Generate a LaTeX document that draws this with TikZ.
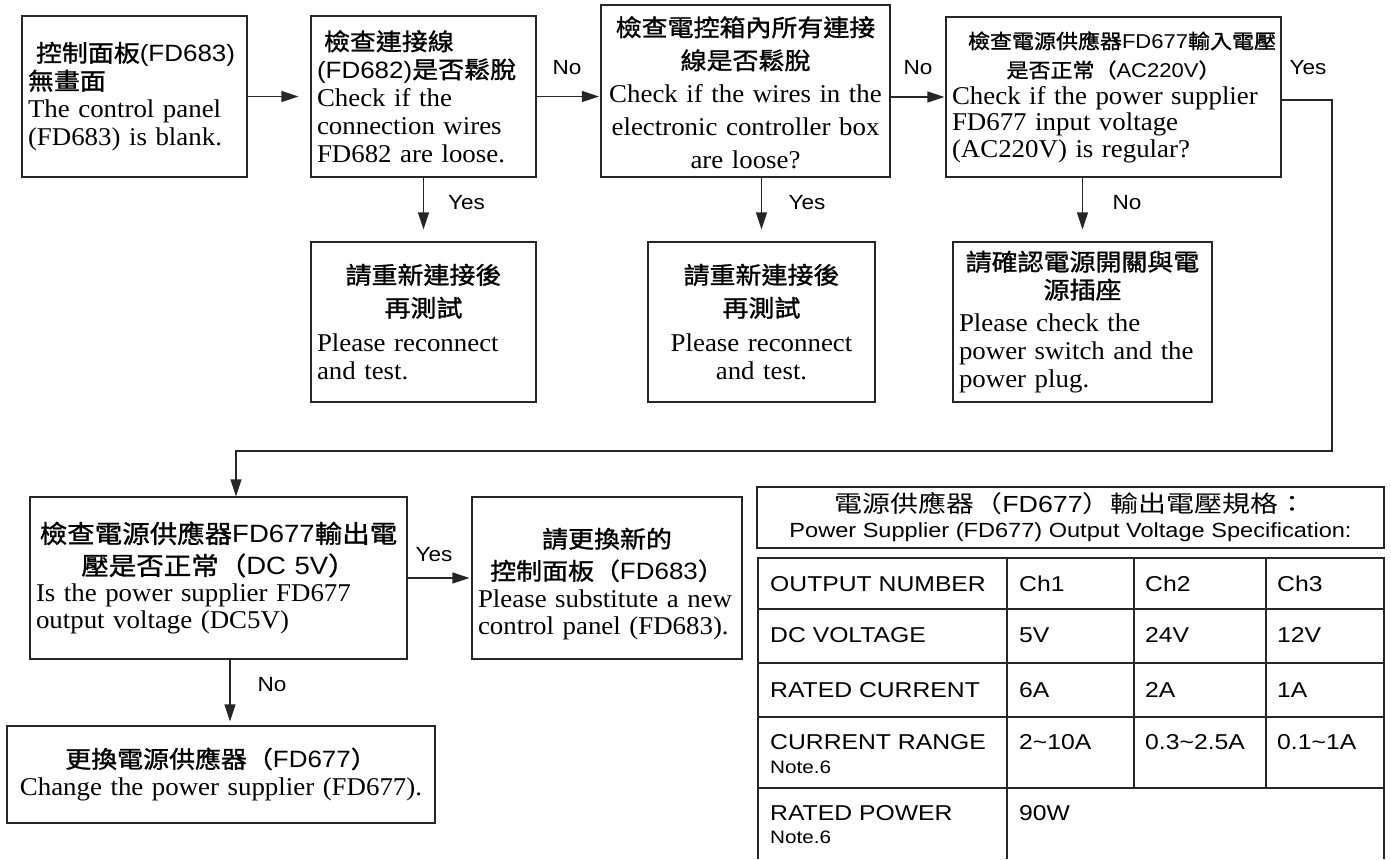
\documentclass[tikz,border=0pt]{standalone}
\usepackage{fontspec}
\setmainfont[FakeStretch=1.05]{Liberation Serif}
\setsansfont[FakeStretch=1.1]{Liberation Sans}
\newfontfamily\cjk[FakeStretch=1.1,FakeBold=1.2]{Noto Sans CJK TC}
\newfontfamily\tabfont[FakeStretch=1.15]{Liberation Sans}
\newfontfamily\tabcjk[FakeStretch=1.2]{Noto Sans CJK TC}
\usetikzlibrary{arrows.meta}
\newcommand\CJ[2][23.6]{{\fontsize{#1}{28}\selectfont #2}}
\newcommand\LL[1]{\makebox[\linewidth][l]{#1}}
\begin{document}
\begin{tikzpicture}[x=1pt,y=-1pt,
  box/.style={draw=black!85, line width=1.1pt, inner xsep=6pt, inner ysep=0pt, font=\fontsize{25.6}{28}\selectfont},
  flow/.style={draw=black!85, line width=1.1pt, -{Triangle[length=17pt,width=11pt]}},
  lab/.style={font=\sffamily\fontsize{20.5}{22}\selectfont, inner sep=0pt},
  tbl/.style={draw=black!85, line width=1.4pt},
  cell/.style={font=\tabfont\fontsize{21.5}{24}\selectfont, anchor=base west, inner sep=0pt},
  note/.style={font=\tabfont\fontsize{18}{20}\selectfont, anchor=base west, inner sep=0pt},
]
\useasboundingbox (0,0) rectangle (1391,859);
\fill[white] (0,0) rectangle (1391,859);

% ---- boxes ----
\node[box, minimum width=225pt, minimum height=161pt, text width=213pt, align=left] (b1) at (134.5,96.5)
 {\CJ{\hspace*{8pt}\cjk 控制面板\sffamily(FD683)}\\
  \CJ{\cjk 無畫面}\\
  The control panel\\
  (FD683) is blank.};

\node[box, minimum width=225pt, minimum height=161pt, text width=213pt, align=left] (b2) at (423.5,96.5)
 {\CJ{\hspace*{7pt}\cjk 檢查連接線}\\
  \CJ{\sffamily(FD682)\cjk 是否鬆脫}\\
  Check if the\\
  connection wires\\
  FD682 are loose.};

\node[box, minimum width=289pt, minimum height=172pt, text width=277pt, align=center, font=\fontsize{25.6}{33}\selectfont] (b3) at (745.5,91)
 {\CJ{\rule{0pt}{23pt}\cjk 檢查電控箱內所有連接}\\
  \CJ{\cjk 線是否鬆脫}\\
  Check if the wires in the\\
  electronic controller box\\
  are loose?};

\node[box, minimum width=335pt, minimum height=160pt, text width=323pt, align=center, font=\fontsize{25.6}{26.5}\selectfont] (b4) at (1113.5,97)
 {\CJ[20]{\hspace*{16pt}\cjk 檢查電源供應器\sffamily FD677\cjk 輸入電壓}\\[2.5pt]
  \CJ[20]{\cjk 是否正常（\sffamily AC220V\cjk ）}\\
  \LL{Check if the power supplier}\\
  \LL{FD677 input voltage}\\
  \LL{(AC220V) is regular?}};

\node[box, minimum width=225pt, minimum height=160pt, text width=213pt, align=center] (b5) at (423.5,322)
 {\CJ{\cjk 請重新連接後}\\[5pt]
  \CJ{\cjk 再測試}\\[7pt]
  \LL{Please reconnect}\\
  \LL{and test.}};

\node[box, minimum width=227pt, minimum height=160pt, text width=215pt, align=center] (b6) at (761.5,322)
 {\CJ{\cjk 請重新連接後}\\[5pt]
  \CJ{\cjk 再測試}\\[7pt]
  Please reconnect\\
  and test.};

\node[box, minimum width=259pt, minimum height=160pt, text width=247pt, align=center] (b7) at (1082.5,322)
 {\CJ{\cjk 請確認電源開關與電}\\
  \CJ{\cjk 源插座}\\[5pt]
  \LL{Please check the}\\
  \LL{power switch and the}\\
  \LL{power plug.}};

\node[box, minimum width=377pt, minimum height=162pt, text width=365pt, align=center, font=\fontsize{25.6}{27}\selectfont] (b8) at (218.5,578)
 {\CJ[25]{\cjk 檢查電源供應器\sffamily FD677\cjk 輸出電}\\[5pt]
  \CJ[25]{\cjk 壓是否正常（\sffamily DC 5V\cjk ）}\\
  \LL{Is the power supplier FD677}\\
  \LL{output voltage (DC5V)}};

\node[box, minimum width=270pt, minimum height=162pt, text width=258pt, align=center, font=\fontsize{25.6}{27.5}\selectfont] (b9) at (607,578)
 {\CJ{\rule{0pt}{32pt}\cjk 請更換新的}\\[4.5pt]
  \CJ{\cjk 控制面板（\sffamily FD683\cjk ）}\\
  \LL{Please substitute a new}\\
  \LL{control panel (FD683).}};

\node[box, minimum width=428pt, minimum height=97pt, text width=416pt, align=center] (b10) at (221,774.5)
 {\CJ{\cjk 更換電源供應器（\sffamily FD677\cjk ）}\\
  Change the power supplier (FD677).};

% ---- connectors ----
\coordinate (k1) at (1332,100);
\coordinate (k2) at (1332,451);
\coordinate (k3) at (236,451);
\coordinate (k4) at (230,700);

\draw[flow, shorten >=12pt] (b1.east) -- (b2.west);
\draw[flow, shorten >=1.5pt] (b2.east) -- (b2.east -| b3.west);
\draw[flow, shorten >=1pt] (b3.east |- b4.west) -- (b4.west);
\draw[flow, shorten >=12pt] (b2.south) -- (b5.north);
\draw[flow, shorten >=12pt] (b6.north |- b3.south) -- (b6.north);
\draw[flow, shorten >=12pt] (b7.north |- b4.south) -- (b7.north);
\draw[flow] (b4.east |- k1) -- (k1) -- (k2) -- (k3) -- (k3 |- b8.north);
\draw[flow, shorten >=2pt] (b8.east) -- (b9.west);
\draw[flow, shorten >=4pt] (b8.south -| k4) -- (b10.north -| k4);

% ---- labels ----
\node[lab] (l1) at (567,68) {No};
\node[lab] (l2) at (466.5,203) {Yes};
\node[lab] (l3) at (918,68) {No};
\node[lab] (l4) at (807,203) {Yes};
\node[lab] (l5) at (1127,203) {No};
\node[lab] (l6) at (1308,68) {Yes};
\node[lab] (l7) at (434,555) {Yes};
\node[lab] (l8) at (272,685) {No};

% ---- specification table ----
\node[tbl, minimum width=627pt, minimum height=61pt, inner sep=0pt, align=center, font=\fontsize{20.5}{25}\selectfont] (title) at (1070.5,517.5)
 {{\tabcjk\fontsize{23.3}{25}\selectfont 電源供應器（\tabfont FD677\tabcjk ）輸出電壓規格：}\\
  {\tabfont\fontsize{20.5}{25}\selectfont Power Supplier (FD677) Output Voltage Specification:}};

\draw[tbl] (758,859) -- (758,558) -- (1384,558) -- (1384,859);
\foreach \yy in {609,663,717,788} \draw[tbl] (758,\yy) -- (1384,\yy);
\draw[tbl] (1007,558) -- (1007,859);
\draw[tbl] (1134,558) -- (1134,788);
\draw[tbl] (1266,558) -- (1266,788);

\node[cell] (t11) at (770,591.5) {OUTPUT NUMBER};
\node[cell] (t12) at (1019,591.5) {Ch1};
\node[cell] (t13) at (1145,591.5) {Ch2};
\node[cell] (t14) at (1277,591.5) {Ch3};
\node[cell] (t21) at (770,642) {DC VOLTAGE};
\node[cell] (t22) at (1019,642) {5V};
\node[cell] (t23) at (1145,642) {24V};
\node[cell] (t24) at (1277,642) {12V};
\node[cell] (t31) at (770,697) {RATED CURRENT};
\node[cell] (t32) at (1019,697) {6A};
\node[cell] (t33) at (1145,697) {2A};
\node[cell] (t34) at (1277,697) {1A};
\node[cell] (t41) at (770,749) {CURRENT RANGE};
\node[note] (n41) at (770,773) {Note.6};
\node[cell] (t42) at (1019,749) {2\textasciitilde 10A};
\node[cell] (t43) at (1145,749) {0.3\textasciitilde 2.5A};
\node[cell] (t44) at (1277,749) {0.1\textasciitilde 1A};
\node[cell] (t51) at (770,820) {RATED POWER};
\node[note] (n51) at (770,843) {Note.6};
\node[cell] (t52) at (1019,820) {90W};
\end{tikzpicture}
\end{document}
